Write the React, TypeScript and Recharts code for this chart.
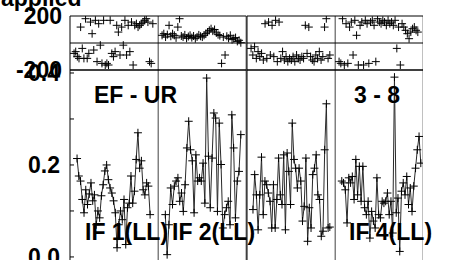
import { ComposedChart, Line, XAxis, YAxis, ReferenceLine } from 'recharts'

const IF_LABELS = ['IF 1(LL)', 'IF 2(LL)', '', 'IF 4(LL)']
const IF_LABEL_X = [85, 172, 0, 349]

const AMP_IF1 = [0.214, 0.176, 0.165, 0.125, 0.096, 0.146, 0.114, 0.137, 0.161, 0.122, 0.135, 0.070, 0.100, 0.085, 0.133, 0.157, 0.187, 0.200, 0.168, 0.150, 0.139, 0.122, 0.096, 0.020, 0.070, 0.100, 0.081, 0.125, 0.027, 0.107, 0.117, 0.176, 0.117, 0.143, 0.212, 0.270, 0.193, 0.209, 0.146, 0.135, 0.161, 0.154, 0.092]
const AMP_IF2 = [0.092, 0.005, 0.070, 0.150, 0.114, 0.154, 0.165, 0.172, 0.121, 0.139, 0.099, 0.157, 0.237, 0.295, 0.233, 0.209, 0.096, 0.222, 0.165, 0.172, 0.165, 0.204, 0.117, 0.389, 0.219, 0.107, 0.215, 0.313, 0.302, 0.099, 0.291, 0.201, 0.063, 0.092, 0.107, 0.121, 0.070, 0.309, 0.237, 0.085, 0.165, 0.186, 0.266]
const AMP_IF3 = [0.103, 0.179, 0.135, 0.059, 0.135, 0.217, 0.092, 0.165, 0.157, 0.139, 0.121, 0.063, 0.157, 0.063, 0.125, 0.215, 0.135, 0.114, 0.222, 0.059, 0.226, 0.186, 0.114, 0.291, 0.212, 0.193, 0.150, 0.193, 0.165, 0.078, 0.110, 0.215, 0.034, 0.107, 0.063, 0.179, 0.193, 0.222, 0.135, 0.125, 0.045, 0.056, 0.233, 0.333, 0.063, 0.065]
const AMP_IF4 = [0.165, 0.161, 0.146, 0.074, 0.172, 0.161, 0.175, 0.125, 0.212, 0.135, 0.197, 0.121, 0.197, 0.107, 0.092, 0.121, 0.041, 0.099, 0.078, 0.063, 0.172, 0.092, 0.085, 0.121, 0.117, 0.121, 0.139, 0.092, 0.121, 0.052, 0.391, 0.096, 0.128, 0.012, 0.143, 0.161, 0.135, 0.175, 0.114, 0.150, 0.099, 0.154, 0.193, 0.233, 0.262, 0.204]

const PHASE_IF1 = [-77, -64, -101, -114, 118, -40, -114, 180, -114, -77, 155, 69, -52, 168, -138, 143, -16, -151, 168, -163, -151, -163, 168, -77, -101, -64, 131, 81, -89, 118, -16, 168, -89, 131, -64, 155, -163, 131, 143, 118, 131, 143, 155, 168, 180, 155, -138, -151, 143]
const PHASE_IF2 = [57, 69, 44, 62, 131, 50, 69, 57, 38, 118, 180, 52, 44, 60, 35, 48, 57, 40, 52, 32, 45, 60, 50, 44, 57, 69, 81, 94, 106, 88, 100, 75, 62, 55, -151, 44, -89, 50, 35, 57, 25, 32, 40, 12, 20, 2]
const PHASE_IF3 = [-40, -89, -28, -114, -64, -101, -77, -126, 143, -114, 155, -89, 131, -101, 168, -138, 155, -114, -64, -126, -101, -138, -114, -126, -101, -138, -89, -114, -126, -101, -114, 131, -77, 118, -101, -126, -138, -89, -114, -64, -126, -101, 118, 180, -114, -89]
const PHASE_IF4 = [-138, -151, 180, -163, 143, -151, 118, 155, -89, 168, 57, -163, 131, 155, -163, 168, 143, -151, 155, 168, 131, -138, 180, 155, 143, 168, 155, 131, 168, 143, 155, 131, 168, -40, 118, -163, 143, 118, 94, 69, 32, 81, 106, 118, 94, 81]

const AMP = [AMP_IF1, AMP_IF2, AMP_IF3, AMP_IF4]
const PHASE = [PHASE_IF1, PHASE_IF2, PHASE_IF3, PHASE_IF4]

// sample time span (hours) inside each IF box
const AMP_T0 = [0.26, 0.27, 0.22, 0.25]
const AMP_T1 = [2.95, 3.05, 3.05, 3.16]
const PH_T0 = 0.15
const PH_T1 = 3.05

const T_DOMAIN = [0, 3.25]
const TIME_TICKS = [1, 2, 3]
const AMP_DOMAIN = [-0.011, 0.4065]
const AMP_TICKS = [0, 0.1, 0.2, 0.3, 0.4]
const AMP_LABELS = [0, 0.2, 0.4]
const PHASE_DOMAIN = [-200, 200]
const PHASE_TICKS = [-200, 200]

const LEFT = 70
const PANEL_W = 88.25
const PAD = 14
const FS = 23
const FONT = '"Liberation Sans", Arial, sans-serif'

function rows(vals: number[], t0: number, t1: number) {
  return vals.map((v, j) => ({ t: t0 + (j * (t1 - t0)) / (vals.length - 1), v }))
}

const cross = (p: any) => {
  if (p.cx == null || p.cy == null) return <g key={`c${p.index}`} />
  return (
    <path key={`c${p.index}`} d={`M${p.cx - 4},${p.cy}h8M${p.cx},${p.cy - 4}v8`}
      stroke="#000" strokeWidth={1} fill="none" />
  )
}

const AmpTick = (p: any) => {
  const v = p.payload.value
  if (!AMP_LABELS.includes(v)) return <g />
  return (
    <text x={p.x - 14} y={p.y} dy="0.36em" textAnchor="end" fontFamily={FONT}
      fontWeight="bold" fontSize={FS} fill="#000">{v.toFixed(1)}</text>
  )
}

const PhaseTick = (p: any) => (
  <text x={p.x - 8} y={p.y} dy="0.36em" textAnchor="end" fontFamily={FONT}
    fontWeight="bold" fontSize={FS} fill="#000">{p.payload.value}</text>
)

function Panel({ idx, amp }: { idx: number; amp: boolean }) {
  const first = idx === 0
  const data = amp ? rows(AMP[idx], AMP_T0[idx], AMP_T1[idx]) : rows(PHASE[idx], PH_T0, PH_T1)
  const yTicks = amp ? AMP_TICKS : PHASE_TICKS
  const tick = first ? (amp ? <AmpTick /> : <PhaseTick />) : false
  const plotTop = amp ? 70 : 16
  const plotH = amp ? 192 : 54
  return (
    <div style={{ position: 'absolute', left: first ? 0 : LEFT + idx * PANEL_W, top: plotTop - PAD }}>
      <ComposedChart width={PANEL_W + (first ? LEFT : 0)} height={plotH + 2 * PAD} data={data}
        margin={{ top: PAD, right: 0, bottom: PAD, left: first ? LEFT : 0 }}>
        <XAxis xAxisId="b" type="number" dataKey="t" domain={T_DOMAIN} ticks={TIME_TICKS}
          orientation="bottom" mirror height={1} tickSize={4} tick={false} interval={0}
          stroke="#000" allowDataOverflow />
        <XAxis xAxisId="t" type="number" dataKey="t" domain={T_DOMAIN} ticks={TIME_TICKS}
          orientation="top" mirror height={1} tickSize={4} tick={false} interval={0}
          stroke="#000" allowDataOverflow />
        <YAxis yAxisId="l" type="number" domain={amp ? AMP_DOMAIN : PHASE_DOMAIN} ticks={yTicks}
          mirror width={1} tickSize={amp ? 4 : 0} tickMargin={0} tick={tick} interval={0}
          stroke="#000" allowDataOverflow />
        <YAxis yAxisId="r" orientation="right" type="number" domain={amp ? AMP_DOMAIN : PHASE_DOMAIN}
          ticks={yTicks} mirror width={1} tickSize={amp ? 4 : 0} tick={false} interval={0}
          stroke="#000" allowDataOverflow />
        {!amp && <ReferenceLine xAxisId="b" yAxisId="l" y={0} stroke="#000" />}
        <Line xAxisId="b" yAxisId="l" dataKey="v" stroke={amp ? '#2a2a2a' : 'none'} strokeWidth={1}
          dot={cross} activeDot={false} isAnimationActive={false} />
      </ComposedChart>
    </div>
  )
}

export default function App() {
  const txt = { fontFamily: FONT, fontWeight: 'bold' as const, fontSize: FS, fill: '#000' }
  return (
    <div style={{ position: 'absolute', left: 0, top: 0, width: 452, height: 260, overflow: 'hidden', background: '#fff' }}>
      {[0, 1, 2, 3].map(i => <Panel key={`p${i}`} idx={i} amp={false} />)}
      {[0, 1, 2, 3].map(i => <Panel key={`a${i}`} idx={i} amp />)}
      <svg width={452} height={260} style={{ position: 'absolute', left: 0, top: 0, pointerEvents: 'none' }}>
        <text x={1} y={6} {...txt}>applied</text>
        <text x={94} y={103} {...txt}>EF - UR</text>
        <text x={354} y={103} {...txt}>3 - 8</text>
        {IF_LABELS.map((s, i) => s ? <text key={s} x={IF_LABEL_X[i]} y={240} {...txt}>{s}</text> : null)}
      </svg>
    </div>
  )
}
